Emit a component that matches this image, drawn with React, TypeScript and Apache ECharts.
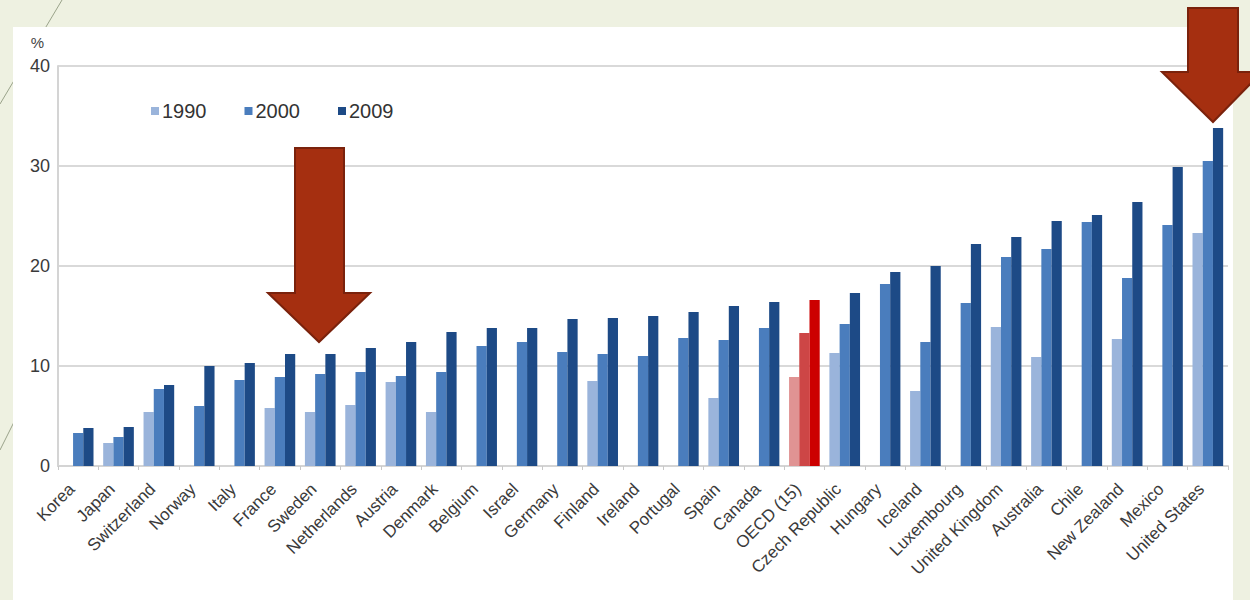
import React, { useEffect, useRef } from "react";
import * as echarts from "echarts";

const countries = [
  "Korea", "Japan", "Switzerland", "Norway", "Italy", "France", "Sweden", "Netherlands",
  "Austria", "Denmark", "Belgium", "Israel", "Germany", "Finland", "Ireland", "Portugal",
  "Spain", "Canada", "OECD (15)", "Czech Republic", "Hungary", "Iceland", "Luxembourg",
  "United Kingdom", "Australia", "Chile", "New Zealand", "Mexico", "United States",
];

const v1990 = [
  null, 2.3, 5.4, null, null, 5.8, 5.4, 6.1, 8.4, 5.4, null, null, null, 8.5, null, null,
  6.8, null, 8.9, 11.3, null, 7.5, null, 13.9, 10.9, null, 12.7, null, 23.3,
];
const v2000 = [
  3.3, 2.9, 7.7, 6.0, 8.6, 8.9, 9.2, 9.4, 9.0, 9.4, 12.0, 12.4, 11.4, 11.2, 11.0, 12.8,
  12.6, 13.8, 13.3, 14.2, 18.2, 12.4, 16.3, 20.9, 21.7, 24.4, 18.8, 24.1, 30.5,
];
const v2009 = [
  3.8, 3.9, 8.1, 10.0, 10.3, 11.2, 11.2, 11.8, 12.4, 13.4, 13.8, 13.8, 14.7, 14.8, 15.0, 15.4,
  16.0, 16.4, 16.6, 17.3, 19.4, 20.0, 22.2, 22.9, 24.5, 25.1, 26.4, 29.9, 33.8,
];

const seriesNames = ["1990", "2000", "2009"];
const yTicks = [0, 10, 20, 30, 40];
const highlight = "OECD (15)";

const blueColors = ["#9ab4db", "#4a7dbd", "#1d4a86"];
const redColors = ["#e09393", "#cd4646", "#cc0000"];

export default function App() {
  const ref = useRef<HTMLDivElement>(null);

  useEffect(() => {
    if (!ref.current) return;
    const chart = echarts.init(ref.current, undefined, { renderer: "svg" });
    const allValues = [v1990, v2000, v2009];

    const series = seriesNames.map((name, si) => ({
      name,
      type: "bar",
      barGap: "0%",
      barCategoryGap: "24%",
      itemStyle: { color: blueColors[si] },
      data: allValues[si].map((v, i) =>
        countries[i] === highlight
          ? { value: v, itemStyle: { color: redColors[si] } }
          : v === null ? "-" : v
      ),
      z: 2,
    }));

    const arrowStyle = { fill: "#a52f10", stroke: "#7a220c", lineWidth: 2 };

    chart.setOption({
      animation: false,
      backgroundColor: "#eef1e1",
      textStyle: { fontFamily: "Liberation Sans, Arial, sans-serif" },
      graphic: [
        { type: "line", z: 0, shape: { x1: 62, y1: 0, x2: 0, y2: 104 }, style: { stroke: "#9aa38a", lineWidth: 1 } },
        { type: "line", z: 0, shape: { x1: 40, y1: 370, x2: 0, y2: 450 }, style: { stroke: "#9aa38a", lineWidth: 1 } },
        { type: "rect", z: 0, shape: { x: 13, y: 27, width: 1220, height: 580 }, style: { fill: "#ffffff" } },
        {
          type: "polygon", z: 100,
          shape: { points: [[295, 148], [344, 148], [344, 293], [370, 293], [319, 342], [268, 293], [295, 293]] },
          style: arrowStyle,
        },
        {
          type: "polygon", z: 100,
          shape: { points: [[1188, 8], [1238, 8], [1238, 72], [1262, 72], [1213, 122], [1162, 72], [1188, 72]] },
          style: arrowStyle,
        },
      ],
      legend: {
        data: seriesNames,
        left: 146,
        top: 96,
        itemWidth: 8,
        itemHeight: 8,
        itemGap: 38,
        icon: "rect",
        textStyle: { fontSize: 20, color: "#333", fontFamily: "Liberation Sans, Arial, sans-serif", padding: [0, 0, 0, -2] },
      },
      grid: { left: 58, right: 22, top: 66, bottom: 134, containLabel: false },
      xAxis: {
        type: "category",
        data: countries,
        axisLine: { lineStyle: { color: "#d4d4d4", width: 2 } },
        axisTick: { show: true, length: 4, lineStyle: { color: "#c8c8c8" } },
        axisLabel: {
          rotate: 45,
          interval: 0,
          fontSize: 17,
          color: "#3a3a3a",
          margin: 14,
          padding: [0, 9, 0, 0],
        },
      },
      yAxis: {
        type: "value",
        min: 0,
        max: 40,
        interval: 10,
        name: "%",
        nameLocation: "end",
        nameGap: 16,
        nameTextStyle: { fontSize: 15, color: "#444", align: "right", padding: [0, 14, 0, 0] },
        axisLine: { show: true, lineStyle: { color: "#d4d4d4", width: 2 } },
        axisTick: { show: false },
        splitLine: { lineStyle: { color: "#d9d9d9", width: 2 } },
        axisLabel: {
          fontSize: 18,
          color: "#3a3a3a",
          margin: 8,
          formatter: (v: number) => (yTicks.includes(v) ? String(v) : ""),
        },
      },
      series,
    });

    return () => chart.dispose();
  }, []);

  return <div ref={ref} style={{ width: 1250, height: 600, position: "absolute", left: 0, top: 0 }} />;
}
